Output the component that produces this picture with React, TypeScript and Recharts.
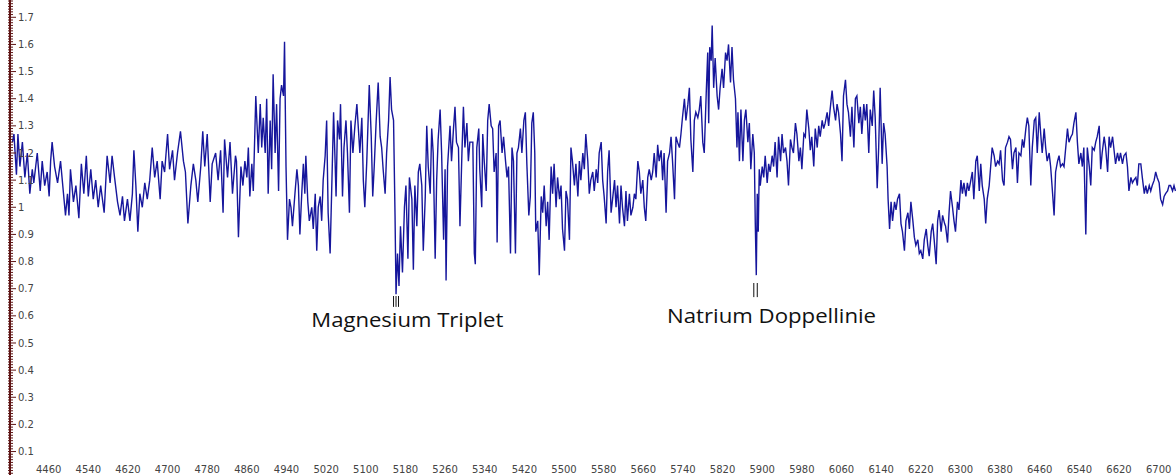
import { LineChart, Line, XAxis, YAxis, ReferenceDot, ReferenceLine } from "recharts"

// wavelength in Angstrom
const wavelength = [
  4387, 4390, 4395, 4398, 4402, 4407, 4412, 4417, 4422, 4427, 4430, 4437, 4443, 4447, 4452, 4457, 4461, 4464, 4467, 4472,
  4478, 4484, 4490, 4494, 4498, 4501, 4504, 4510, 4515, 4521, 4526, 4531, 4536, 4540, 4545, 4550, 4555, 4560, 4565, 4572,
  4578, 4584, 4588, 4593, 4599, 4604, 4609, 4613, 4619, 4624, 4629, 4632, 4636, 4640, 4644, 4649, 4654, 4659, 4664, 4669,
  4674, 4679, 4685, 4689, 4694, 4700, 4704, 4710, 4714, 4720, 4726, 4732, 4736, 4741, 4747, 4752, 4757, 4761, 4767, 4771,
  4775, 4780, 4786, 4790, 4797, 4802, 4807, 4812, 4815, 4821, 4826, 4831, 4837,
  4839, 4843, 4848, 4852, 4856, 4860, 4863, 4866, 4870, 4873, 4878, 4883, 4887, 4890, 4893, 4897, 4900, 4903, 4907, 4910,
  4913, 4917, 4920, 4924, 4927, 4930, 4934, 4936, 4939, 4942, 4946, 4949, 4952, 4957, 4961, 4964, 4967, 4971, 4974, 4977,
  4979, 4983, 4986, 4991, 4994, 4998, 5001, 5004, 5008, 5011, 5014, 5018, 5021, 5024, 5028, 5031, 5035, 5038, 5040, 5043,
  5047, 5049, 5053, 5056, 5060, 5063, 5067, 5070, 5074, 5078, 5082, 5085, 5088, 5092, 5095, 5098, 5102, 5107, 5111, 5114,
  5117, 5121, 5125, 5129, 5132, 5135, 5139, 5142, 5146, 5149, 5152, 5156, 5159, 5161, 5164, 5167, 5170, 5174, 5178, 5181,
  5185, 5188, 5193, 5196, 5199, 5203, 5206, 5209, 5213, 5216, 5220, 5223, 5226, 5230, 5233, 5236, 5240, 5243, 5246, 5250,
  5253, 5257, 5260, 5262, 5265, 5270, 5273, 5277, 5280, 5283, 5287, 5290, 5294, 5297, 5300, 5304, 5307, 5310,
  5316, 5319, 5321, 5324, 5328, 5330, 5334, 5336, 5339, 5343, 5346, 5349, 5353, 5356, 5359, 5363, 5365, 5368, 5371, 5375,
  5378, 5382, 5385, 5388, 5392, 5395, 5398, 5402, 5405, 5408, 5412, 5415, 5419, 5422, 5425, 5429, 5432, 5435, 5438, 5441,
  5443, 5447, 5450, 5454, 5457, 5460, 5464, 5467, 5470, 5474, 5477, 5480, 5484, 5487, 5491, 5494, 5497, 5501, 5504, 5507,
  5511, 5514, 5517, 5521, 5524, 5528, 5531, 5534, 5538, 5541, 5544, 5548, 5551, 5554, 5558, 5561, 5565, 5568, 5571, 5575,
  5578, 5581, 5585, 5588, 5591, 5595, 5598, 5602, 5605, 5608, 5612, 5615, 5618, 5622, 5625, 5628, 5632, 5635, 5639, 5642,
  5645, 5649, 5652, 5655, 5659, 5662, 5665, 5669, 5672, 5676, 5679, 5682, 5686, 5689, 5692, 5696, 5699, 5702, 5706, 5709,
  5713, 5716, 5719, 5723, 5726, 5729, 5733, 5736, 5739, 5743, 5746, 5750, 5753, 5756, 5760, 5763, 5766, 5770, 5773, 5776,
  5780, 5783, 5787, 5790,
  5792, 5794, 5797, 5799, 5802, 5805, 5809, 5812, 5815, 5819, 5822, 5826, 5829, 5832, 5836, 5839, 5842, 5846, 5849, 5851,
  5854, 5857, 5861, 5864, 5867, 5871, 5874, 5877, 5881, 5884, 5886, 5888, 5890, 5892, 5894, 5896, 5900, 5903, 5906, 5910,
  5913, 5916, 5920, 5923, 5926, 5930, 5933, 5937, 5940, 5943, 5947, 5950, 5953, 5957, 5960, 5963, 5967, 5970, 5974, 5977,
  5980, 5984, 5987, 5990, 5994, 5997, 6000, 6004, 6007, 6011, 6014, 6017, 6021, 6024, 6027, 6031, 6034, 6037, 6041, 6044,
  6048, 6051, 6054, 6058, 6061, 6064, 6068, 6071, 6074, 6078, 6081, 6085, 6088, 6091, 6095, 6098, 6101, 6105, 6108, 6111,
  6115, 6118, 6122, 6125, 6128, 6132, 6135, 6138, 6142, 6145, 6148, 6152, 6154, 6157, 6160, 6163, 6167, 6170, 6173, 6177,
  6180, 6183, 6187, 6190, 6194, 6197, 6200, 6204, 6207, 6210, 6214, 6217, 6220, 6224, 6227, 6231, 6234, 6237, 6241, 6244,
  6247, 6251, 6254, 6257, 6261, 6264, 6268,
  6270, 6274, 6277, 6280, 6284, 6287, 6290, 6294, 6297, 6301, 6304, 6307, 6311, 6314, 6317, 6321, 6324, 6327, 6331, 6334,
  6338, 6341, 6344, 6348, 6351, 6354, 6358, 6361, 6364, 6368, 6371, 6375, 6378, 6381, 6385, 6388, 6391, 6395, 6398, 6401,
  6405, 6408, 6412, 6415, 6418, 6422, 6425, 6428, 6432, 6435, 6438, 6442, 6445, 6449, 6452, 6455, 6459, 6462, 6465, 6469,
  6472, 6475, 6479, 6482, 6486, 6489, 6492, 6496, 6499, 6502, 6506, 6509, 6512, 6516, 6519, 6523, 6526, 6529, 6533, 6536,
  6539, 6543, 6546, 6549, 6553, 6556, 6560, 6563, 6566, 6570, 6573, 6576, 6580, 6583, 6586, 6590, 6593, 6597, 6600, 6603,
  6607, 6610, 6613, 6617, 6620, 6623, 6627, 6630, 6634, 6637, 6640, 6644, 6647, 6650, 6654, 6657, 6660, 6664, 6667, 6671,
  6674, 6677, 6681, 6684, 6687, 6691, 6694, 6697, 6701, 6704, 6708, 6711, 6714, 6718, 6721, 6724, 6728, 6731, 6734,
]

// relative intensity at each wavelength above
const flux = [
  1.24, 1.27, 1.12, 1.27, 1.15, 1.24, 1.11, 1.2, 1.05, 1.14, 1.09, 1.2, 1.06, 1.17, 1.08, 1.13, 1.04, 1.17, 1.24, 1.15,
  1.09, 1.17, 1.05, 0.97, 1.05, 0.97, 1.14, 1.02, 1.08, 0.96, 1.16, 1.05, 1.19, 1.04, 1.14, 1.03, 1.1, 1.0, 1.08, 0.98,
  1.19, 1.09, 1.19, 1.11, 1.02, 0.97, 1.04, 0.95, 1.03, 0.95, 1.05, 1.21, 1.08, 0.91, 1.05, 1.0, 1.09, 1.03, 1.1, 1.22,
  1.11, 1.17, 1.03, 1.17, 1.13, 1.27, 1.14, 1.21, 1.1, 1.2, 1.28, 1.17, 1.13, 0.94, 1.08, 1.16, 1.1, 1.02, 1.15, 1.28,
  1.15, 1.27, 1.02, 1.16, 1.2, 1.1, 1.21, 0.98, 1.25, 1.11, 1.24, 1.05, 1.19,
  1.17, 0.89, 1.15, 1.08, 1.17, 1.11, 1.22, 1.04, 1.16, 1.06, 1.41, 1.2, 1.38, 1.22, 1.33, 1.2, 1.4, 1.05, 1.32, 1.14,
  1.49, 1.2, 1.38, 1.06, 1.4, 1.45, 1.41, 1.61, 1.15, 0.88, 1.03, 1.0, 0.93, 1.05, 1.14, 1.08, 0.9, 1.06, 1.16, 1.05,
  1.19, 1.02, 0.95, 1.0, 0.92, 1.05, 0.84, 1.0, 1.04, 0.95, 1.1, 1.19, 1.32, 0.98, 0.83, 1.05, 1.35, 1.17, 1.04, 1.32,
  1.25, 1.38, 1.04, 1.22, 1.32, 1.2, 0.98, 1.32, 1.2, 1.3, 1.38, 1.29, 1.2, 1.33, 1.1, 1.0, 1.17, 1.45, 1.26, 1.04,
  1.15, 1.32, 1.46, 1.26, 1.22, 1.14, 1.05, 1.2, 1.32, 1.48, 1.36, 1.32, 0.97, 0.68, 0.83, 0.71, 0.93, 0.76, 1.0, 1.08,
  0.81, 1.11, 1.03, 0.77, 1.08, 0.93, 1.13, 1.16, 1.08, 0.84, 1.04, 1.3, 1.15, 1.05, 1.29, 1.2, 0.81, 1.1, 1.25, 1.36,
  1.2, 0.88, 1.14, 0.73, 1.15, 1.3, 1.17, 1.29, 1.37, 1.24, 1.22, 0.93, 1.2, 1.37, 1.22, 1.31, 1.17, 1.24,
  1.24, 0.83, 0.79, 1.22, 1.29, 1.14, 1.0, 1.27, 1.17, 1.06, 1.32, 1.38, 1.3, 1.29, 1.13, 1.2, 0.87, 1.3, 1.32, 1.2,
  1.26, 1.17, 1.11, 1.15, 0.83, 1.22, 1.17, 0.83, 1.2, 1.22, 1.29, 1.2, 1.32, 1.35, 1.16, 0.97, 1.04, 1.31, 1.35, 1.2,
  0.91, 0.95, 0.75, 1.04, 0.98, 1.08, 0.93, 1.02, 0.88, 1.15, 1.05, 1.16, 1.0, 1.11, 1.03, 1.08, 0.92, 0.84, 1.06, 1.03,
  0.88, 1.22, 1.17, 1.08, 1.16, 1.04, 1.17, 1.1, 1.2, 1.14, 1.27, 1.17, 1.05, 1.1, 1.13, 1.06, 1.14, 1.09, 1.2, 1.24,
  1.1, 1.04, 0.94, 1.13, 1.21, 0.98, 1.03, 1.1, 1.0, 1.08, 0.94, 1.08, 1.0, 0.93, 1.06, 0.95, 1.05, 0.97, 1.0, 1.05,
  1.03, 1.17, 1.13, 1.05, 1.1, 1.0, 0.95, 1.11, 1.14, 1.1, 1.13, 1.2, 1.11, 1.23, 1.17, 1.21, 1.1, 1.2, 0.98, 1.17,
  1.2, 1.26, 1.17, 1.03, 1.26, 1.24, 1.22, 1.27, 1.33, 1.4, 1.32, 1.38, 1.44, 1.25, 1.13, 1.32, 1.35, 1.33, 1.36, 1.41,
  1.24, 1.2, 1.42, 1.57,
  1.31, 1.59, 1.54, 1.67, 1.44, 1.55, 1.41, 1.36, 1.44, 1.51, 1.44, 1.57, 1.54, 1.6, 1.46, 1.59, 1.47, 1.4, 1.22, 1.35,
  1.17, 1.36, 1.17, 1.32, 1.36, 1.24, 1.31, 1.14, 1.27, 1.2, 0.94, 0.75, 1.05, 0.91, 1.14, 1.08, 1.15, 1.11, 1.19, 1.09,
  1.16, 1.13, 1.19, 1.15, 1.24, 1.11, 1.26, 1.17, 1.27, 1.2, 1.22, 1.17, 1.08, 1.25, 1.22, 1.2, 1.31, 1.27, 1.17, 1.22,
  1.14, 1.27, 1.26, 1.36, 1.29, 1.21, 1.26, 1.15, 1.29, 1.22, 1.3, 1.26, 1.32, 1.29, 1.31, 1.35, 1.3, 1.36, 1.43, 1.37,
  1.32, 1.38, 1.35, 1.27, 1.17, 1.41, 1.47, 1.38, 1.35, 1.26, 1.37, 1.22, 1.4, 1.41, 1.31, 1.37, 1.27, 1.38, 1.32, 1.38,
  1.2, 1.36, 1.3, 1.43, 1.33, 1.07, 1.22, 1.44, 1.16, 1.31, 1.27, 1.15, 1.03, 0.92, 1.02, 0.95, 1.02, 0.99, 1.03, 1.05,
  0.94, 0.91, 0.84, 0.95, 0.98, 0.92, 1.02, 0.95, 0.89, 0.86, 0.88, 0.83, 0.84, 0.81, 0.88, 0.92, 0.86, 0.82, 0.91, 0.94,
  0.88, 0.79, 0.95, 0.99, 0.91, 0.97, 0.94,
  0.93, 0.87, 0.98, 1.06, 1.0, 0.95, 0.91, 1.02, 0.99, 1.1, 1.05, 1.09, 1.04, 1.09, 1.06, 1.1, 1.13, 1.03, 1.17, 1.19,
  1.06, 1.16, 1.08, 1.03, 0.94, 1.03, 1.08, 1.15, 1.22, 1.19, 1.15, 1.17, 1.16, 1.21, 1.1, 1.08, 1.22, 1.24, 1.26, 1.25,
  1.14, 1.2, 1.22, 1.09, 1.2, 1.19, 1.25, 1.22, 1.29, 1.33, 1.3, 1.08, 1.22, 1.32, 1.33, 1.2, 1.35, 1.27, 1.2, 1.29,
  1.22, 1.17, 1.2, 1.15, 1.05, 0.97, 1.13, 1.17, 1.19, 1.15, 1.16, 1.15, 1.21, 1.29, 1.24, 1.26, 1.27, 1.31, 1.35, 1.24,
  1.16, 1.2, 1.15, 1.22, 0.9, 1.22, 1.15, 1.08, 1.22, 1.21, 1.24, 1.26, 1.3, 1.14, 1.2, 1.26, 1.22, 1.13, 1.26, 1.22,
  1.26, 1.21, 1.16, 1.2, 1.17, 1.2, 1.16, 1.19, 1.2, 1.15, 1.06, 1.11, 1.09, 1.1, 1.11, 1.08, 1.16, 1.16, 1.11, 1.05,
  1.08, 1.05, 1.08, 1.06, 1.08, 1.1, 1.13, 1.11, 1.09, 1.03, 1.01, 1.04, 1.05, 1.06, 1.08, 1.08, 1.06, 1.08, 1.06,
]

const xTicks = [
  4460, 4540, 4620, 4700, 4780, 4860, 4940, 5020, 5100, 5180, 5260, 5340, 5420, 5500, 5580,
  5660, 5740, 5820, 5900, 5980, 6060, 6140, 6220, 6300, 6380, 6460, 6540, 6620, 6700,
]
const yTicks = [0.1, 0.2, 0.3, 0.4, 0.5, 0.6, 0.7, 0.8, 0.9, 1, 1.1, 1.2, 1.3, 1.4, 1.5, 1.6, 1.7]

const data = wavelength.map((w, i) => ({ w, flux: flux[i] }))

// ruler marks every 0.01 along the y axis
const rulerTicks: number[] = []
for (let i = 2; i <= 176; i++) rulerTicks.push(i / 100)

const xDomain = [4382, 6735]
const yDomain = [0.0136, 1.7637]
const axisColor = "#5e1414"

function RulerTick(props: any) {
  const { x, y, payload } = props
  const major = yTicks.includes(payload.value)
  return (
    <g>
      <line x1={x - 2} x2={x + (major ? 6 : 3)} y1={y} y2={y} stroke={axisColor} strokeWidth={1} />
      {major && (
        <text x={x + 8} y={y} dy="0.36em" fontSize={10} fontFamily="DejaVu Sans" fill="#444">
          {String(payload.value)}
        </text>
      )}
    </g>
  )
}

function Annotation({ viewBox, text, width }: any) {
  return (
    <text
      x={viewBox.x}
      y={viewBox.y}
      fontSize={20}
      fontFamily="Open Sans"
      fill="#111"
      textLength={width}
      lengthAdjust="spacingAndGlyphs"
    >
      {text}
    </text>
  )
}

export default function App() {
  return (
    <div style={{ position: "absolute", left: 0, top: 0, background: "#fff" }}>
      <LineChart width={1176} height={475} data={data} margin={{ top: 0, right: 0, bottom: 0, left: 10 }}>
        <XAxis
          dataKey="w"
          type="number"
          domain={xDomain}
          allowDataOverflow
          ticks={xTicks}
          interval={0}
          mirror
          axisLine={false}
          tickLine={false}
          tickSize={0}
          tickMargin={2}
          tick={{ fontSize: 10, fontFamily: "DejaVu Sans", fill: "#444" }}
        />
        <YAxis
          yAxisId="flux"
          type="number"
          domain={yDomain}
          allowDataOverflow
          ticks={rulerTicks}
          interval={0}
          mirror
          width={40}
          tickSize={0}
          tickMargin={0}
          tickLine={false}
          axisLine={{ stroke: axisColor, strokeWidth: 2 }}
          tick={<RulerTick />}
        />
        <Line
          yAxisId="flux"
          type="linear"
          dataKey="flux"
          stroke="#16169c"
          strokeWidth={1.4}
          dot={false}
          isAnimationActive={false}
        />
        {/* Mg b triplet marks */}
        <ReferenceLine yAxisId="flux" segment={[{ x: 5156, y: 0.673 }, { x: 5156, y: 0.633 }]} stroke="#111" ifOverflow="visible" />
        <ReferenceLine yAxisId="flux" segment={[{ x: 5161, y: 0.673 }, { x: 5161, y: 0.633 }]} stroke="#111" ifOverflow="visible" />
        <ReferenceLine yAxisId="flux" segment={[{ x: 5166, y: 0.673 }, { x: 5166, y: 0.633 }]} stroke="#111" ifOverflow="visible" />
        {/* Na D doublet marks */}
        <ReferenceLine yAxisId="flux" segment={[{ x: 5883, y: 0.721 }, { x: 5883, y: 0.669 }]} stroke="#111" ifOverflow="visible" />
        <ReferenceLine yAxisId="flux" segment={[{ x: 5890, y: 0.721 }, { x: 5890, y: 0.669 }]} stroke="#111" ifOverflow="visible" />
        <ReferenceDot
          yAxisId="flux"
          x={4990}
          y={0.559}
          r={0}
          ifOverflow="visible"
          label={(p: any) => <Annotation {...p} text="Magnesium Triplet" width={192} />}
        />
        <ReferenceDot
          yAxisId="flux"
          x={5708}
          y={0.574}
          r={0}
          ifOverflow="visible"
          label={(p: any) => <Annotation {...p} text="Natrium Doppellinie" width={209} />}
        />
      </LineChart>
    </div>
  )
}
